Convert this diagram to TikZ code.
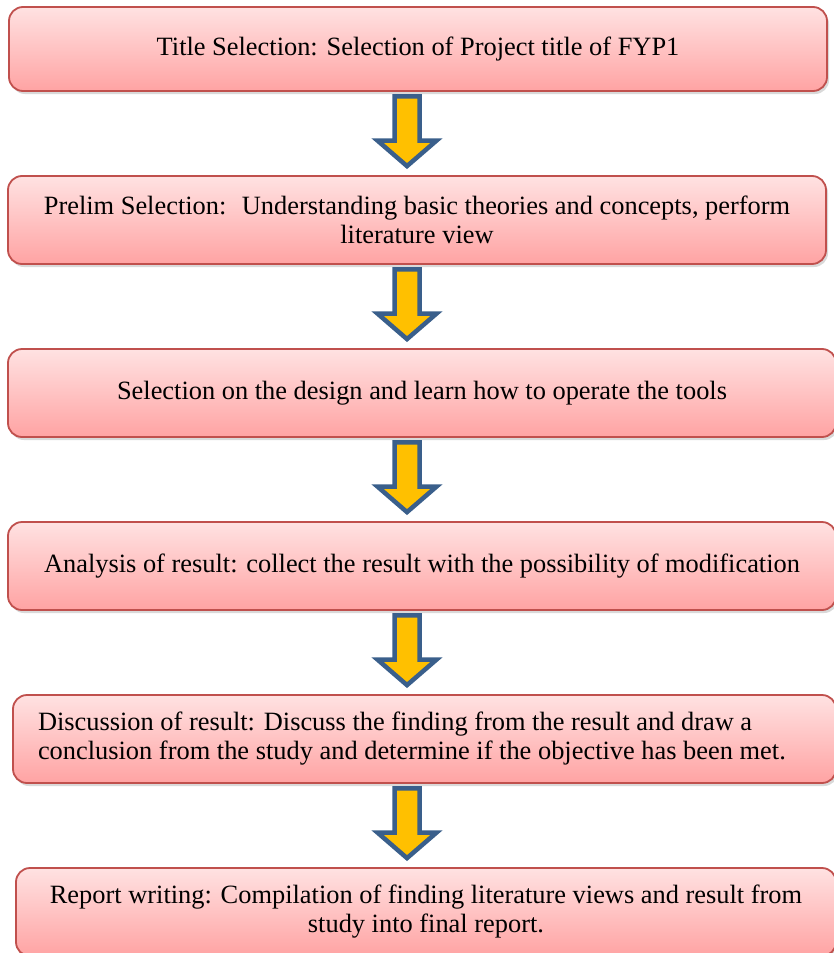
\documentclass[tikz,border=0pt]{standalone}
\usepackage{fontspec}
\setmainfont{Liberation Serif}
\usetikzlibrary{calc,shadows}
\definecolor{boxline}{HTML}{C0504D}
\definecolor{boxtop}{HTML}{FFE2E2}
\definecolor{boxbot}{HTML}{FFA3A3}
\definecolor{arrline}{HTML}{3A5F8B}
\definecolor{arrfill}{HTML}{FFC000}
\tikzset{
  stage/.style={draw=boxline, line width=1.8pt, rounded corners=14pt,
    top color=boxtop, bottom color=boxbot, minimum height=88pt, inner sep=0pt,
    align=center, font=\fontsize{26.4}{29}\selectfont,
    drop shadow={opacity=.3, shadow xshift=2pt, shadow yshift=-3pt}},
  arrowshape/.style={draw=arrline, fill=arrfill, line width=4.5pt, line join=miter}
}
\newcommand*{\flowarrow}[2]{%
  \draw[arrowshape] let \p1=(#1.south -| mid), \p2=(#2.north -| mid) in
    (\x1-12.5pt,\y1-4.5pt) -- (\x1-12.5pt,\y2+34.5pt) -- (\x1-29.5pt,\y2+34.5pt)
    -- (\x1,\y2+9pt) -- (\x1+29.5pt,\y2+34.5pt) -- (\x1+12.5pt,\y2+34.5pt)
    -- (\x1+12.5pt,\y1-4.5pt) -- cycle;}

\begin{document}
\begin{tikzpicture}[x=1pt,y=-1pt]
\useasboundingbox (0,0) rectangle (833,953);
\coordinate (mid) at (407,0);

\node[stage, minimum width=818pt, minimum height=84pt] (title) at (418,49)
  {Title Selection: Selection of Project title of FYP1};
\node[stage, minimum width=818pt] (prelim) at (417,220)
  {Prelim Selection:~ Understanding basic theories and concepts, perform\\literature view};
\node[stage, minimum width=828pt] (design) at (422,393)
  {Selection on the design and learn how to operate the tools};
\node[stage, minimum width=828pt] (analysis) at (422,566)
  {Analysis of result: collect the result with the possibility of modification};
\node[stage, minimum width=823pt, text width=773pt, align=flush left] (discuss) at (424.5,739)
  {Discussion of result: Discuss the finding from the result and draw a\\conclusion from the study and determine if the objective has been met.};
\node[stage, minimum width=820pt] (report) at (426,912)
  {Report writing: Compilation of finding literature views and result from\\study into final report.};

\flowarrow{title}{prelim}
\flowarrow{prelim}{design}
\flowarrow{design}{analysis}
\flowarrow{analysis}{discuss}
\flowarrow{discuss}{report}
\end{tikzpicture}
\end{document}
